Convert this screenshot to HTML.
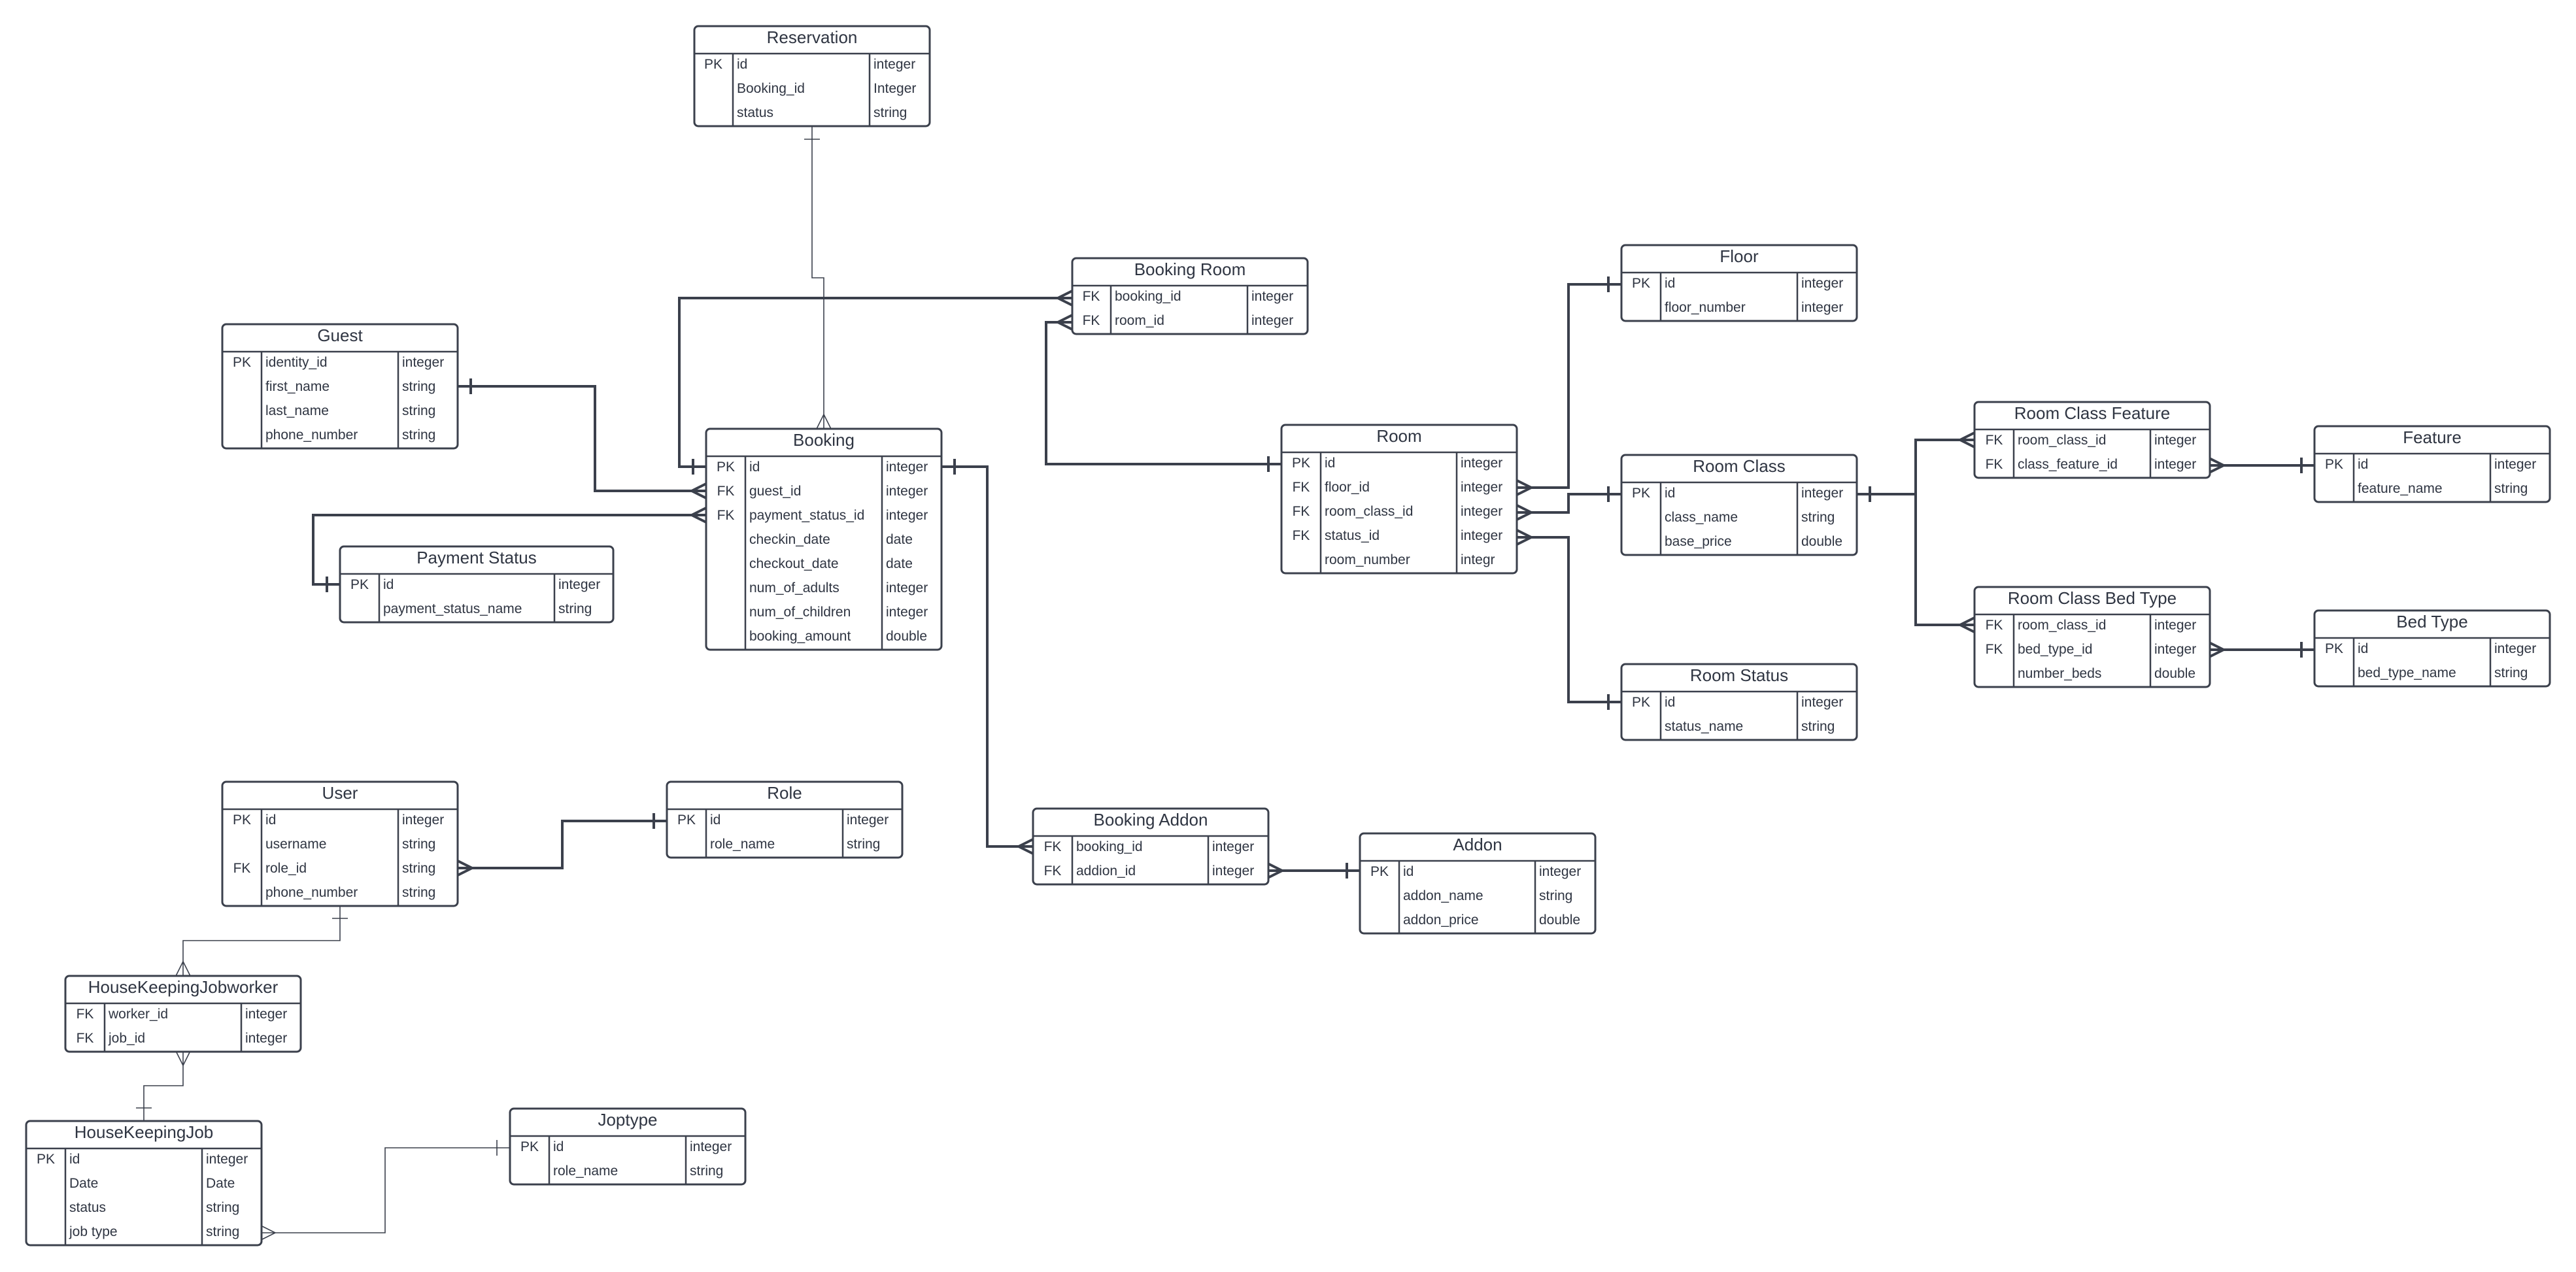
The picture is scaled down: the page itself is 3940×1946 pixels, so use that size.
<!DOCTYPE html>
<html><head><meta charset="utf-8"><style>
html,body{margin:0;padding:0;background:#fff;}
svg{display:block}
text{font-family:"Liberation Sans",sans-serif;fill:#2f3542}
.h{font-size:26px;text-anchor:middle}
.t{font-size:21px}
.k{font-size:21px;text-anchor:middle}
.b{fill:#fff;stroke:#3b404c;stroke-width:3}
.l{stroke:#3b404c;stroke-width:2.5;fill:none}
.c{stroke:#3b404c;stroke-width:4;fill:none}
.n{stroke:#3b404c;stroke-width:1.6;fill:none}
</style></head><body>
<svg width="3940" height="1946" viewBox="0 0 3940 1946" xmlns="http://www.w3.org/2000/svg">
<rect width="3940" height="1946" fill="#fff"/>

<g class="c">
<path d="M1080 714 H1039 V456 H1640"/><path d="M1618 456 L1640 445 M1618 456 L1640 467 M1060 702 V726"/>
<path d="M1960 710 H1600 V493 H1640"/><path d="M1618 493 L1640 482 M1618 493 L1640 504 M1940 698 V722"/>
<path d="M700 591 H910 V751 H1080"/><path d="M720 579 V603 M1058 751 L1080 740 M1058 751 L1080 762"/>
<path d="M1080 788 H479 V894 H520"/><path d="M1058 788 L1080 777 M1058 788 L1080 799 M500 882 V906"/>
<path d="M1440 714 H1510 V1295 H1580"/><path d="M1460 702 V726 M1558 1295 L1580 1284 M1558 1295 L1580 1306"/>
<path d="M1939 1332 H2080"/><path d="M1961 1332 L1939 1321 M1961 1332 L1939 1343 M2060 1320 V1344"/>
<path d="M2320 746 H2399 V435 H2480"/><path d="M2342 746 L2320 735 M2342 746 L2320 757 M2460 423 V447"/>
<path d="M2320 784 H2399 V756 H2480"/><path d="M2342 784 L2320 773 M2342 784 L2320 795 M2460 744 V768"/>
<path d="M2320 822 H2399 V1074 H2480"/><path d="M2342 822 L2320 811 M2342 822 L2320 833 M2460 1062 V1086"/>
<path d="M2839 756 H2930 V673 H3020 M2930 756 V956 H3020"/><path d="M2860 744 V768 M2998 673 L3020 662 M2998 673 L3020 684 M2998 956 L3020 945 M2998 956 L3020 967"/>
<path d="M3379 712 H3540"/><path d="M3401 712 L3379 701 M3401 712 L3379 723 M3520 700 V724"/>
<path d="M3379 994 H3540"/><path d="M3401 994 L3379 983 M3401 994 L3379 1005 M3520 982 V1006"/>
<path d="M700 1328 H860 V1256 H1020"/><path d="M722 1328 L700 1317 M722 1328 L700 1339 M1000 1244 V1268"/>
</g>
<g class="n">
<path d="M1242 193 V425 H1260 V656"/><path d="M1230 213 H1254 M1260 634 L1249 656 M1260 634 L1271 656"/>
<path d="M520 1386 V1439 H280 V1493"/><path d="M508 1405 H532 M280 1471 L269 1493 M280 1471 L291 1493"/>
<path d="M280 1608 V1661 H220 V1715"/><path d="M280 1630 L269 1608 M280 1630 L291 1608 M208 1695 H232"/>
<path d="M399 1886 H589 V1756 H780"/><path d="M421 1886 L399 1875 M421 1886 L399 1897 M760 1744 V1768"/>
</g>

<rect class="b" x="1062" y="40" width="360" height="153" rx="6"/>
<path class="l" d="M1062 82 H1422 M1121 82 V193 M1330 82 V193"/>
<text class="h" x="1242" y="66">Reservation</text>
<text class="k" x="1091" y="105">PK</text><text class="t" x="1127" y="105">id</text><text class="t" x="1336" y="105">integer</text>
<text class="t" x="1127" y="142">Booking_id</text><text class="t" x="1336" y="142">Integer</text>
<text class="t" x="1127" y="179">status</text><text class="t" x="1336" y="179">string</text>

<rect class="b" x="1640" y="395" width="360" height="116" rx="6"/>
<path class="l" d="M1640 437 H2000 M1699 437 V511 M1908 437 V511"/>
<text class="h" x="1820" y="421">Booking Room</text>
<text class="k" x="1669" y="460">FK</text><text class="t" x="1705" y="460">booking_id</text><text class="t" x="1914" y="460">integer</text>
<text class="k" x="1669" y="497">FK</text><text class="t" x="1705" y="497">room_id</text><text class="t" x="1914" y="497">integer</text>

<rect class="b" x="340" y="496" width="360" height="190" rx="6"/>
<path class="l" d="M340 538 H700 M400 538 V686 M609 538 V686"/>
<text class="h" x="520" y="522">Guest</text>
<text class="k" x="370" y="561">PK</text><text class="t" x="406" y="561">identity_id</text><text class="t" x="615" y="561">integer</text>
<text class="t" x="406" y="598">first_name</text><text class="t" x="615" y="598">string</text>
<text class="t" x="406" y="635">last_name</text><text class="t" x="615" y="635">string</text>
<text class="t" x="406" y="672">phone_number</text><text class="t" x="615" y="672">string</text>

<rect class="b" x="1080" y="656" width="360" height="338" rx="6"/>
<path class="l" d="M1080 698 H1440 M1140 698 V994 M1349 698 V994"/>
<text class="h" x="1260" y="682">Booking</text>
<text class="k" x="1110" y="721">PK</text><text class="t" x="1146" y="721">id</text><text class="t" x="1355" y="721">integer</text>
<text class="k" x="1110" y="758">FK</text><text class="t" x="1146" y="758">guest_id</text><text class="t" x="1355" y="758">integer</text>
<text class="k" x="1110" y="795">FK</text><text class="t" x="1146" y="795">payment_status_id</text><text class="t" x="1355" y="795">integer</text>
<text class="t" x="1146" y="832">checkin_date</text><text class="t" x="1355" y="832">date</text>
<text class="t" x="1146" y="869">checkout_date</text><text class="t" x="1355" y="869">date</text>
<text class="t" x="1146" y="906">num_of_adults</text><text class="t" x="1355" y="906">integer</text>
<text class="t" x="1146" y="943">num_of_children</text><text class="t" x="1355" y="943">integer</text>
<text class="t" x="1146" y="980">booking_amount</text><text class="t" x="1355" y="980">double</text>

<rect class="b" x="520" y="836" width="418" height="116" rx="6"/>
<path class="l" d="M520 878 H938 M580 878 V952 M848 878 V952"/>
<text class="h" x="729" y="862">Payment Status</text>
<text class="k" x="550" y="901">PK</text><text class="t" x="586" y="901">id</text><text class="t" x="854" y="901">integer</text>
<text class="t" x="586" y="938">payment_status_name</text><text class="t" x="854" y="938">string</text>

<rect class="b" x="2480" y="375" width="360" height="116" rx="6"/>
<path class="l" d="M2480 417 H2840 M2540 417 V491 M2749 417 V491"/>
<text class="h" x="2660" y="401">Floor</text>
<text class="k" x="2510" y="440">PK</text><text class="t" x="2546" y="440">id</text><text class="t" x="2755" y="440">integer</text>
<text class="t" x="2546" y="477">floor_number</text><text class="t" x="2755" y="477">integer</text>

<rect class="b" x="1960" y="650" width="360" height="227" rx="6"/>
<path class="l" d="M1960 692 H2320 M2020 692 V877 M2228 692 V877"/>
<text class="h" x="2140" y="676">Room</text>
<text class="k" x="1990" y="715">PK</text><text class="t" x="2026" y="715">id</text><text class="t" x="2234" y="715">integer</text>
<text class="k" x="1990" y="752">FK</text><text class="t" x="2026" y="752">floor_id</text><text class="t" x="2234" y="752">integer</text>
<text class="k" x="1990" y="789">FK</text><text class="t" x="2026" y="789">room_class_id</text><text class="t" x="2234" y="789">integer</text>
<text class="k" x="1990" y="826">FK</text><text class="t" x="2026" y="826">status_id</text><text class="t" x="2234" y="826">integer</text>
<text class="t" x="2026" y="863">room_number</text><text class="t" x="2234" y="863">integr</text>

<rect class="b" x="2480" y="696" width="360" height="153" rx="6"/>
<path class="l" d="M2480 738 H2840 M2540 738 V849 M2749 738 V849"/>
<text class="h" x="2660" y="722">Room Class</text>
<text class="k" x="2510" y="761">PK</text><text class="t" x="2546" y="761">id</text><text class="t" x="2755" y="761">integer</text>
<text class="t" x="2546" y="798">class_name</text><text class="t" x="2755" y="798">string</text>
<text class="t" x="2546" y="835">base_price</text><text class="t" x="2755" y="835">double</text>

<rect class="b" x="2480" y="1016" width="360" height="116" rx="6"/>
<path class="l" d="M2480 1058 H2840 M2540 1058 V1132 M2749 1058 V1132"/>
<text class="h" x="2660" y="1042">Room Status</text>
<text class="k" x="2510" y="1081">PK</text><text class="t" x="2546" y="1081">id</text><text class="t" x="2755" y="1081">integer</text>
<text class="t" x="2546" y="1118">status_name</text><text class="t" x="2755" y="1118">string</text>

<rect class="b" x="3020" y="615" width="360" height="116" rx="6"/>
<path class="l" d="M3020 657 H3380 M3080 657 V731 M3289 657 V731"/>
<text class="h" x="3200" y="641">Room Class Feature</text>
<text class="k" x="3050" y="680">FK</text><text class="t" x="3086" y="680">room_class_id</text><text class="t" x="3295" y="680">integer</text>
<text class="k" x="3050" y="717">FK</text><text class="t" x="3086" y="717">class_feature_id</text><text class="t" x="3295" y="717">integer</text>

<rect class="b" x="3540" y="652" width="360" height="116" rx="6"/>
<path class="l" d="M3540 694 H3900 M3600 694 V768 M3809 694 V768"/>
<text class="h" x="3720" y="678">Feature</text>
<text class="k" x="3570" y="717">PK</text><text class="t" x="3606" y="717">id</text><text class="t" x="3815" y="717">integer</text>
<text class="t" x="3606" y="754">feature_name</text><text class="t" x="3815" y="754">string</text>

<rect class="b" x="3020" y="898" width="360" height="153" rx="6"/>
<path class="l" d="M3020 940 H3380 M3080 940 V1051 M3289 940 V1051"/>
<text class="h" x="3200" y="924">Room Class Bed Type</text>
<text class="k" x="3050" y="963">FK</text><text class="t" x="3086" y="963">room_class_id</text><text class="t" x="3295" y="963">integer</text>
<text class="k" x="3050" y="1000">FK</text><text class="t" x="3086" y="1000">bed_type_id</text><text class="t" x="3295" y="1000">integer</text>
<text class="t" x="3086" y="1037">number_beds</text><text class="t" x="3295" y="1037">double</text>

<rect class="b" x="3540" y="934" width="360" height="116" rx="6"/>
<path class="l" d="M3540 976 H3900 M3600 976 V1050 M3809 976 V1050"/>
<text class="h" x="3720" y="960">Bed Type</text>
<text class="k" x="3570" y="999">PK</text><text class="t" x="3606" y="999">id</text><text class="t" x="3815" y="999">integer</text>
<text class="t" x="3606" y="1036">bed_type_name</text><text class="t" x="3815" y="1036">string</text>

<rect class="b" x="340" y="1196" width="360" height="190" rx="6"/>
<path class="l" d="M340 1238 H700 M400 1238 V1386 M609 1238 V1386"/>
<text class="h" x="520" y="1222">User</text>
<text class="k" x="370" y="1261">PK</text><text class="t" x="406" y="1261">id</text><text class="t" x="615" y="1261">integer</text>
<text class="t" x="406" y="1298">username</text><text class="t" x="615" y="1298">string</text>
<text class="k" x="370" y="1335">FK</text><text class="t" x="406" y="1335">role_id</text><text class="t" x="615" y="1335">string</text>
<text class="t" x="406" y="1372">phone_number</text><text class="t" x="615" y="1372">string</text>

<rect class="b" x="1020" y="1196" width="360" height="116" rx="6"/>
<path class="l" d="M1020 1238 H1380 M1080 1238 V1312 M1289 1238 V1312"/>
<text class="h" x="1200" y="1222">Role</text>
<text class="k" x="1050" y="1261">PK</text><text class="t" x="1086" y="1261">id</text><text class="t" x="1295" y="1261">integer</text>
<text class="t" x="1086" y="1298">role_name</text><text class="t" x="1295" y="1298">string</text>

<rect class="b" x="1580" y="1237" width="360" height="116" rx="6"/>
<path class="l" d="M1580 1279 H1940 M1640 1279 V1353 M1848 1279 V1353"/>
<text class="h" x="1760" y="1263">Booking Addon</text>
<text class="k" x="1610" y="1302">FK</text><text class="t" x="1646" y="1302">booking_id</text><text class="t" x="1854" y="1302">integer</text>
<text class="k" x="1610" y="1339">FK</text><text class="t" x="1646" y="1339">addion_id</text><text class="t" x="1854" y="1339">integer</text>

<rect class="b" x="2080" y="1275" width="360" height="153" rx="6"/>
<path class="l" d="M2080 1317 H2440 M2140 1317 V1428 M2348 1317 V1428"/>
<text class="h" x="2260" y="1301">Addon</text>
<text class="k" x="2110" y="1340">PK</text><text class="t" x="2146" y="1340">id</text><text class="t" x="2354" y="1340">integer</text>
<text class="t" x="2146" y="1377">addon_name</text><text class="t" x="2354" y="1377">string</text>
<text class="t" x="2146" y="1414">addon_price</text><text class="t" x="2354" y="1414">double</text>

<rect class="b" x="100" y="1493" width="360" height="116" rx="6"/>
<path class="l" d="M100 1535 H460 M160 1535 V1609 M369 1535 V1609"/>
<text class="h" x="280" y="1519">HouseKeepingJobworker</text>
<text class="k" x="130" y="1558">FK</text><text class="t" x="166" y="1558">worker_id</text><text class="t" x="375" y="1558">integer</text>
<text class="k" x="130" y="1595">FK</text><text class="t" x="166" y="1595">job_id</text><text class="t" x="375" y="1595">integer</text>

<rect class="b" x="40" y="1715" width="360" height="190" rx="6"/>
<path class="l" d="M40 1757 H400 M100 1757 V1905 M309 1757 V1905"/>
<text class="h" x="220" y="1741">HouseKeepingJob</text>
<text class="k" x="70" y="1780">PK</text><text class="t" x="106" y="1780">id</text><text class="t" x="315" y="1780">integer</text>
<text class="t" x="106" y="1817">Date</text><text class="t" x="315" y="1817">Date</text>
<text class="t" x="106" y="1854">status</text><text class="t" x="315" y="1854">string</text>
<text class="t" x="106" y="1891">job type</text><text class="t" x="315" y="1891">string</text>

<rect class="b" x="780" y="1696" width="360" height="116" rx="6"/>
<path class="l" d="M780 1738 H1140 M840 1738 V1812 M1049 1738 V1812"/>
<text class="h" x="960" y="1722">Joptype</text>
<text class="k" x="810" y="1761">PK</text><text class="t" x="846" y="1761">id</text><text class="t" x="1055" y="1761">integer</text>
<text class="t" x="846" y="1798">role_name</text><text class="t" x="1055" y="1798">string</text>
</svg>
</body></html>
